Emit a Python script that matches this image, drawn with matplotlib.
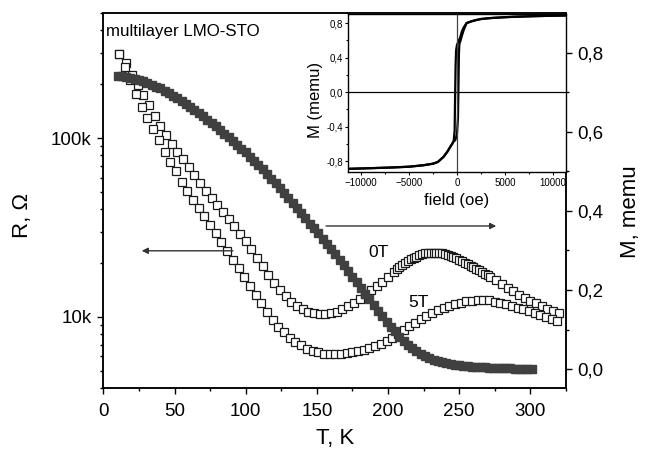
import matplotlib
matplotlib.use("Agg")
import matplotlib.pyplot as plt
from matplotlib.ticker import FixedLocator, NullFormatter, FuncFormatter, LogLocator

plt.rcParams['font.family'] = ['Liberation Sans', 'DejaVu Sans']

# ---- R(T) at 0 T (open squares, left log axis)
t_0t = [11, 16, 20, 24, 28, 32, 36, 40, 44, 48, 52, 56, 60, 64, 68, 72, 76, 80, 84, 88,
        92, 96, 100, 104, 108, 112, 116, 120, 124, 128, 132, 136, 140, 144, 148, 152,
        156, 160, 164, 168, 172, 176, 180, 184, 188, 192, 196, 200, 204,
        206, 208, 210, 212, 214, 216, 218, 220, 222, 224, 226, 228, 230, 232, 234, 236,
        238, 240, 242, 244, 246, 248, 250, 252, 254, 256, 258, 260, 262, 264, 266, 268,
        270, 272, 276, 280, 284, 288, 292, 296, 300, 304, 308, 312, 316, 320]
r_0t = [296, 262, 226, 197, 174, 153, 133, 116, 104, 92, 83.5, 76.5, 69, 62, 56, 50.4,
        46.4, 42.2, 38.4, 35.3, 32.2, 29.2, 26.6, 23.8, 21.4, 19.3, 17.2, 15.5, 14.1,
        13.0, 12.1, 11.5, 11.0, 10.7, 10.5, 10.4, 10.4, 10.5, 10.7, 11.0, 11.5, 12.0,
        12.6, 13.4, 14.1, 14.8, 15.7, 16.7, 17.8,
        18.4, 19.0, 19.6, 20.1, 20.6, 21.0, 21.4, 21.7, 22.1, 22.4, 22.6, 22.7, 22.8,
        22.8, 22.8, 22.7, 22.6, 22.4, 22.2, 21.9, 21.5, 21.2, 20.8, 20.5, 20.1, 19.7,
        19.3, 18.9, 18.5, 18.2, 17.8, 17.4, 17.1, 16.7,
        16.0, 15.2, 14.5, 13.9, 13.3, 12.8, 12.3, 11.9, 11.5, 11.1, 10.8, 10.5]

# ---- R(T) at 5 T
t_5t = [11, 15, 19, 23, 27, 31, 35, 39, 43, 47, 51, 55, 59, 63, 67, 71, 75, 79, 83, 87,
        91, 95, 99, 103, 107, 111, 115, 119, 123, 127, 131, 135, 139, 143, 147, 151, 155,
        159, 163, 167, 171, 175, 179, 183, 187, 191, 195, 199, 203, 207, 211, 215, 219,
        223, 227, 231, 235, 239, 243, 247, 251, 255, 259, 263, 267, 271, 275, 279, 283,
        287, 291, 295, 299, 303, 307, 311, 315, 319]
r_5t = [296, 248, 212, 176, 149, 129, 112, 97, 84, 73.5, 65, 56.5, 50.4, 45.2, 40.5, 36.6,
        32.8, 29.3, 26.2, 23.4, 20.9, 18.8, 16.8, 14.9, 13.3, 11.9, 10.6, 9.55, 8.8, 8.18,
        7.65, 7.25, 6.93, 6.65, 6.47, 6.33, 6.23, 6.18, 6.17, 6.2, 6.26, 6.33, 6.41, 6.53,
        6.69, 6.85, 7.05, 7.3, 7.6, 7.98, 8.42, 8.85, 9.25, 9.67, 10.1, 10.5, 10.9, 11.25,
        11.55, 11.8, 12.0, 12.2, 12.3, 12.35, 12.4, 12.35, 12.15, 11.95, 11.75, 11.5,
        11.25, 11.0, 10.75, 10.5, 10.25, 10.0, 9.75, 9.5]

# ---- M(T) (filled squares, right axis)
t_m = [10, 13, 16, 19, 22, 25, 28, 31, 34, 37, 40, 43, 46, 49, 52, 55, 58, 61, 64, 67,
       70, 73, 76, 79, 82, 85, 88, 91, 94, 97, 100, 103, 106, 109, 112, 115, 118, 121,
       124, 127, 130, 133, 136, 139, 142, 145, 148, 151, 154, 157, 160, 163, 166, 169,
       172, 175, 178, 181, 184, 187, 190, 193, 196, 199, 202, 205, 208, 211, 214, 217,
       220, 223, 226, 229, 232, 235, 238, 241, 244, 247, 250, 253, 256, 259, 262, 265,
       268, 271, 274, 277, 280, 283, 286, 289, 292, 295, 298, 301]
m_t = [.742, .7405, .739, .7375, .735, .7315, .728, .724, .7195, .715, .710, .704, .698,
       .692, .685, .678, .671, .663, .656, .648, .640, .631, .623, .614, .605, .596, .587,
       .578, .568, .558, .548, .537, .526, .516, .505, .494, .482, .471, .459, .446, .434,
       .421, .408, .394, .381, .368, .356, .343, .329, .316, .303, .290, .276, .263, .248,
       .234, .220, .205, .191, .176, .162, .148, .134, .120, .107, .095, .082, .071, .062,
       .053, .045, .039, .033, .028, .024, .020, .017, .014, .012, .010, .009, .008, .007,
       .006, .005, .004, .004, .003, .003, .003, .002, .002, .002, .001, .001, .001, .001,
       .001]

# ---- hysteresis loop (inset)
h_down = [11350, 10000, 8000, 6000, 5000, 3500, 2500, 2000, 1500, 1000, 700, 500, 350,
          200, 100, 0, -100, -150, -200, -250, -350, -500, -700, -1000, -1400, -2000,
          -2500, -3500, -5000, -7000, -9000, -11350]
m_down = [0.888, 0.885, 0.880, 0.873, 0.868, 0.858, 0.847, 0.835, 0.820, 0.800, 0.750,
          0.700, 0.640, 0.600, 0.575, 0.550, 0.480, 0.300, -0.050, -0.450, -0.570, -0.600,
          -0.634, -0.690, -0.750, -0.810, -0.830, -0.848, -0.865, -0.875, -0.882, -0.890]
h_up = [-11350, -9000, -7000, -5000, -3500, -2500, -2000, -1400, -1000, -700, -500, -350,
        -200, -100, 0, 100, 150, 200, 250, 350, 500, 700, 1000, 1500, 2000, 2500, 3500,
        5000, 6000, 8000, 10000, 11350]
m_up = [-0.890, -0.882, -0.875, -0.865, -0.848, -0.830, -0.810, -0.750, -0.690, -0.634,
        -0.600, -0.570, -0.560, -0.530, -0.480, -0.300, 0.050, 0.450, 0.560, 0.590, 0.650,
        0.720, 0.800, 0.820, 0.835, 0.847, 0.858, 0.868, 0.873, 0.880, 0.885, 0.888]

comma = FuncFormatter(lambda v, p: ('%.1f' % v).replace('.', ','))
kfmt = FuncFormatter(lambda v, p: '%dk' % round(v / 1000))

fig = plt.figure(figsize=(6.46, 4.55), dpi=100)
ax = fig.add_axes([0.160, 0.1473, 0.716, 0.8241])
ax2 = ax.twinx()

ax.plot(t_0t, [r * 1000 for r in r_0t], 's', ms=5.2, mfc='white',
        mec='#1a1a1a', mew=0.9)
ax.plot(t_5t, [r * 1000 for r in r_5t], 's', ms=5.2, mfc='white',
        mec='#1a1a1a', mew=0.9)
ax2.plot(t_m, m_t, 's', ms=6.2, color='#404040', mec='#404040')

ax.set_yscale('log')
ax.set_xlim(0, 325)
ax.set_ylim(4000, 5e5)
ax2.set_ylim(-0.048, 0.901)

ax.xaxis.set_major_locator(FixedLocator([0, 50, 100, 150, 200, 250, 300]))
ax.xaxis.set_minor_locator(FixedLocator([25, 75, 125, 175, 225, 275, 325]))
ax.yaxis.set_major_locator(FixedLocator([1e4, 1e5]))
ax.yaxis.set_major_formatter(kfmt)
ax.yaxis.set_minor_locator(LogLocator(base=10, subs=range(2, 10)))
ax.yaxis.set_minor_formatter(NullFormatter())
ax2.yaxis.set_major_locator(FixedLocator([0, 0.2, 0.4, 0.6, 0.8]))
ax2.yaxis.set_minor_locator(FixedLocator([0.1, 0.3, 0.5, 0.7]))
ax2.yaxis.set_major_formatter(comma)

for a in (ax, ax2):
    a.tick_params(which='major', direction='out', length=4.5, width=1.0, labelsize=13.5)
    a.tick_params(which='minor', direction='out', length=2.4, width=1.0)
    for s in a.spines.values():
        s.set_linewidth(1.1)
ax.tick_params(axis='y', which='both', right=False, pad=4)
ax.tick_params(axis='x', which='both', top=False, pad=6)
ax2.tick_params(axis='y', which='both', pad=4)

ax.set_xlabel('T, K', fontsize=16)
ax.xaxis.set_label_coords(0.501, -0.107)
ax.set_ylabel('R, Ω', fontsize=16)
ax.yaxis.set_label_coords(-0.152, 0.459)
ax2.set_ylabel('M, memu', fontsize=16)
ax2.yaxis.set_label_coords(1.117, 0.469)

ax.text(0.006, 0.952, 'multilayer LMO-STO', transform=ax.transAxes, fontsize=12.2,
        va='center', ha='left')
ax.text(193.4, 22800, '0T', fontsize=12.5, ha='center', va='center')
ax.text(221.5, 11970, '5T', fontsize=12.5, ha='center', va='center')

arrow = dict(arrowstyle='-|>', color='#333333', lw=1.0, mutation_scale=9)
ax.annotate('', xy=(25, 23400), xytext=(93, 23400), arrowprops=arrow)
ax2.annotate('', xy=(278, 0.362), xytext=(154.5, 0.362), arrowprops=arrow)

# inset
axi = fig.add_axes([0.5392, 0.6213, 0.3365, 0.3479])
axi.plot(h_down, m_down, color='black', lw=1.6)
axi.plot(h_up, m_up, color='black', lw=1.6)
axi.axhline(0, color='black', lw=0.9)
axi.axvline(0, color='#444444', lw=0.9)
axi.set_xlim(-11350, 11350)
axi.set_ylim(-0.93, 0.905)
axi.xaxis.set_major_locator(FixedLocator([-10000, -5000, 0, 5000, 10000]))
axi.xaxis.set_minor_locator(FixedLocator([-7500, -2500, 2500, 7500]))
axi.yaxis.set_major_locator(FixedLocator([-0.8, -0.4, 0.0, 0.4, 0.8]))
axi.yaxis.set_minor_locator(FixedLocator([-0.6, -0.2, 0.2, 0.6]))
axi.yaxis.set_major_formatter(comma)
axi.tick_params(which='major', direction='out', length=2.5, width=0.8, labelsize=7, pad=1.5)
axi.tick_params(which='minor', direction='out', length=1.5, width=0.8)
axi.tick_params(top=False, right=False, which='both')
for s in axi.spines.values():
    s.set_linewidth(1.0)
axi.set_xlabel('field (oe)', fontsize=12)
axi.xaxis.set_label_coords(0.5, -0.131)
axi.set_ylabel('M (memu)', fontsize=12)
axi.yaxis.set_label_coords(-0.116, 0.457)

fig.savefig('out.png', dpi=100)
